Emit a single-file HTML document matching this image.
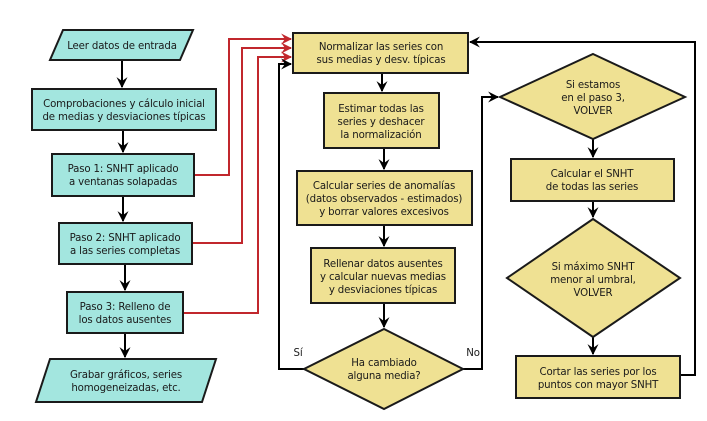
<!DOCTYPE html>
<html><head><meta charset="utf-8"><style>
html,body{margin:0;padding:0;background:#fff}
svg{display:block}
text{font-family:"DejaVu Sans","Liberation Sans",sans-serif;font-size:10.2px;letter-spacing:-0.15px;fill:#1a1a1a;text-anchor:middle}
.t{fill:#a3e6df;stroke:#1a1a1a;stroke-width:2}
.y{fill:#efe193;stroke:#1a1a1a;stroke-width:2}
.b{fill:none;stroke:#000;stroke-width:2}
.r{fill:none;stroke:#c1272d;stroke-width:2}
</style></head><body>
<svg width="707" height="421" viewBox="0 0 707 421">
<defs>
<marker id="ab" viewBox="0 0 10 10" refX="9" refY="5" markerWidth="11" markerHeight="11" orient="auto" markerUnits="userSpaceOnUse"><path d="M0,0 L10,5 L0,10 L3.5,5 z" fill="#000"/></marker>
<marker id="ar" viewBox="0 0 10 10" refX="9" refY="5" markerWidth="11" markerHeight="11" orient="auto" markerUnits="userSpaceOnUse"><path d="M0,0 L10,5 L0,10 L3.5,5 z" fill="#c1272d"/></marker>
</defs>
<path class="b" d="M122,60 V87" marker-end="url(#ab)"/>
<path class="b" d="M123,130 V152" marker-end="url(#ab)"/>
<path class="b" d="M123,196 V221" marker-end="url(#ab)"/>
<path class="b" d="M125,264 V290" marker-end="url(#ab)"/>
<path class="b" d="M125,333 V357" marker-end="url(#ab)"/>
<path class="r" d="M194,175 H229 V39 H291" marker-end="url(#ar)"/>
<path class="r" d="M192,243 H242 V48 H291" marker-end="url(#ar)"/>
<path class="r" d="M183,313 H258 V57 H291" marker-end="url(#ar)"/>
<path class="b" d="M304,369 H279 V64 H291" marker-end="url(#ab)"/>
<path class="b" d="M382,73 V91" marker-end="url(#ab)"/>
<path class="b" d="M384,148 V169" marker-end="url(#ab)"/>
<path class="b" d="M384,225 V246" marker-end="url(#ab)"/>
<path class="b" d="M384,303 V327" marker-end="url(#ab)"/>
<path class="b" d="M463,369 H482 V97 H498" marker-end="url(#ab)"/>
<path class="b" d="M593,139 V157" marker-end="url(#ab)"/>
<path class="b" d="M593,201 V217" marker-end="url(#ab)"/>
<path class="b" d="M593,337 V354" marker-end="url(#ab)"/>
<path class="b" d="M680,375 H695 V42 H470" marker-end="url(#ab)"/>
<polygon class="t" points="63,30 193,30 180,60 50,60"/>
<text x="122" y="49">Leer datos de entrada</text>
<rect class="t" x="32" y="89" width="184" height="41"/>
<text x="124" y="107">Comprobaciones y cálculo inicial</text>
<text x="124" y="120">de medias y desviaciones típicas</text>
<rect class="t" x="52" y="154" width="142" height="42"/>
<text x="123" y="172">Paso 1: SNHT aplicado</text>
<text x="123" y="185">a ventanas solapadas</text>
<rect class="t" x="59" y="223" width="133" height="41"/>
<text x="125" y="241">Paso 2: SNHT aplicado</text>
<text x="125" y="254">a las series completas</text>
<rect class="t" x="67" y="292" width="116" height="41"/>
<text x="125" y="310">Paso 3: Relleno de</text>
<text x="125" y="323">los datos ausentes</text>
<polygon class="t" points="50,359 216,359 202,402 36,402"/>
<text x="126" y="378">Grabar gráficos, series</text>
<text x="126" y="391">homogeneizadas, etc.</text>
<rect class="y" x="293" y="33" width="175" height="40"/>
<text x="381" y="50">Normalizar las series con</text>
<text x="381" y="63">sus medias y desv. típicas</text>
<rect class="y" x="324" y="93" width="115" height="55"/>
<text x="381" y="112">Estimar todas las</text>
<text x="381" y="125">series y deshacer</text>
<text x="381" y="138">la normalización</text>
<rect class="y" x="297" y="171" width="175" height="54"/>
<text x="384" y="189">Calcular series de anomalías</text>
<text x="384" y="202">(datos observados - estimados)</text>
<text x="384" y="215">y borrar valores excesivos</text>
<rect class="y" x="311" y="248" width="144" height="55"/>
<text x="383" y="267">Rellenar datos ausentes</text>
<text x="383" y="280">y calcular nuevas medias</text>
<text x="383" y="293">y desviaciones típicas</text>
<polygon class="y" points="384,329 463,369 384,409 304,369"/>
<text x="384" y="366">Ha cambiado</text>
<text x="384" y="379">alguna media?</text>
<text x="298" y="356">Sí</text>
<text x="473" y="356">No</text>
<polygon class="y" points="593,54 685,97 593,139 500,97"/>
<text x="593" y="88">Si estamos</text>
<text x="593" y="101">en el paso 3,</text>
<text x="593" y="114">VOLVER</text>
<rect class="y" x="511" y="159" width="163" height="42"/>
<text x="592" y="177">Calcular el SNHT</text>
<text x="592" y="190">de todas las series</text>
<polygon class="y" points="593,219 680,278 593,337 507,278"/>
<text x="593" y="270">Si máximo SNHT</text>
<text x="593" y="283">menor al umbral,</text>
<text x="593" y="296">VOLVER</text>
<rect class="y" x="516" y="356" width="164" height="42"/>
<text x="598" y="375">Cortar las series por los</text>
<text x="598" y="388">puntos con mayor SNHT</text>
</svg>
</body></html>
